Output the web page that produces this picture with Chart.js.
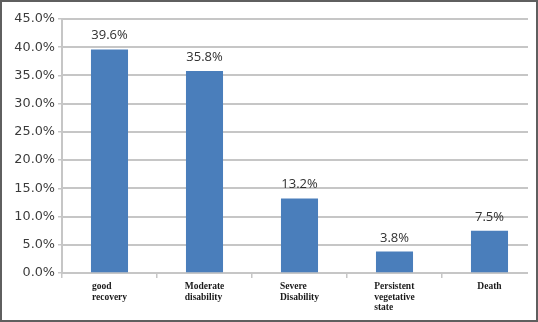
<!DOCTYPE html>
<html>
<head>
<meta charset="utf-8">
<script src="https://cdn.jsdelivr.net/npm/chart.js@4"></script>
<style>
  html, body { margin: 0; padding: 0; background: #fff; }
  #wrap { width: 538px; height: 322px; position: relative; }
</style>
</head>
<body>
<div id="wrap"><canvas id="outcomeChart" width="538" height="322"></canvas></div>
<script>
// outcome categories (x axis labels, one array entry per line)
const categories = [
  ['good', 'recovery'],
  ['Moderate', 'disability'],
  ['Severe', 'Disability'],
  ['Persistent', 'vegetative', 'state'],
  ['Death']
];
// percentages
const percentValues = [39.6, 35.8, 13.2, 3.8, 7.5];
const yMin = 0;
const yMax = 45;
const yStep = 5;

const gridColor = '#c6c6c6';

// horizontal grid lines (they stop a little short of the right edge in the original)
const gridPlugin = {
  id: 'gridLines',
  beforeDatasetsDraw(chart) {
    const { ctx, chartArea, scales } = chart;
    const y = scales.y;
    ctx.save();
    ctx.strokeStyle = gridColor;
    ctx.lineWidth = 2;
    y.ticks.forEach((t) => {
      const py = Math.round(y.getPixelForValue(t.value));
      ctx.beginPath();
      ctx.moveTo(chartArea.left, py);
      ctx.lineTo(chartArea.right - 9, py);
      ctx.stroke();
    });
    ctx.restore();
  }
};

// value labels above bars + left aligned multi-line category labels + frame
const labelPlugin = {
  id: 'labels',
  afterDraw(chart) {
    const { ctx, chartArea, scales } = chart;
    const meta = chart.getDatasetMeta(0);
    ctx.save();
    ctx.fillStyle = '#303030';
    ctx.font = '13px "Open Sans"';
    ctx.textAlign = 'center';
    ctx.textBaseline = 'alphabetic';
    meta.data.forEach((bar, i) => {
      ctx.fillText(percentValues[i].toFixed(1) + '%', bar.x, bar.y - 10);
    });

    ctx.fillStyle = '#1a1a1a';
    ctx.font = 'bold 9.5px "Liberation Serif"';
    ctx.textAlign = 'left';
    categories.forEach((lines, i) => {
      const cx = scales.x.getPixelForTick(i);
      const w = Math.max(...lines.map((l) => ctx.measureText(l).width));
      lines.forEach((line, j) => {
        ctx.fillText(line, cx - w / 2, chartArea.bottom + 16 + j * 10.5);
      });
    });

    ctx.strokeStyle = '#5f5f5f';
    ctx.lineWidth = 2;
    ctx.strokeRect(1, 1, chart.width - 2, chart.height - 2);
    ctx.restore();
  }
};

const ctx = document.getElementById('outcomeChart').getContext('2d');

new Chart(ctx, {
  type: 'bar',
  data: {
    labels: categories,
    datasets: [{
      data: percentValues,
      backgroundColor: '#4a7ebb',
      borderWidth: 0,
      categoryPercentage: 1,
      barPercentage: 0.39
    }]
  },
  options: {
    responsive: false,
    animation: false,
    devicePixelRatio: 1,
    layout: { padding: { left: 0, top: 19, right: 1, bottom: 0 } },
    plugins: {
      legend: { display: false },
      tooltip: { enabled: false }
    },
    scales: {
      x: {
        afterFit(scale) { scale.height = 49; },
        grid: {
          drawOnChartArea: false,
          drawTicks: true,
          tickLength: 5,
          color: gridColor,
          lineWidth: 1.5
        },
        border: { display: false },
        ticks: { display: false }
      },
      y: {
        min: yMin,
        max: yMax,
        afterFit(scale) { scale.width = 62; },
        grid: {
          drawOnChartArea: false,
          drawTicks: true,
          tickLength: 4,
          color: gridColor,
          lineWidth: 1.5
        },
        border: { display: true, color: gridColor, width: 2 },
        ticks: {
          stepSize: yStep,
          padding: 3,
          color: '#3a3a3a',
          font: { family: '"DejaVu Sans"', size: 12.8 },
          callback: (v) => v.toFixed(1) + '%'
        }
      }
    }
  },
  plugins: [gridPlugin, labelPlugin]
});
</script>
</body>
</html>
